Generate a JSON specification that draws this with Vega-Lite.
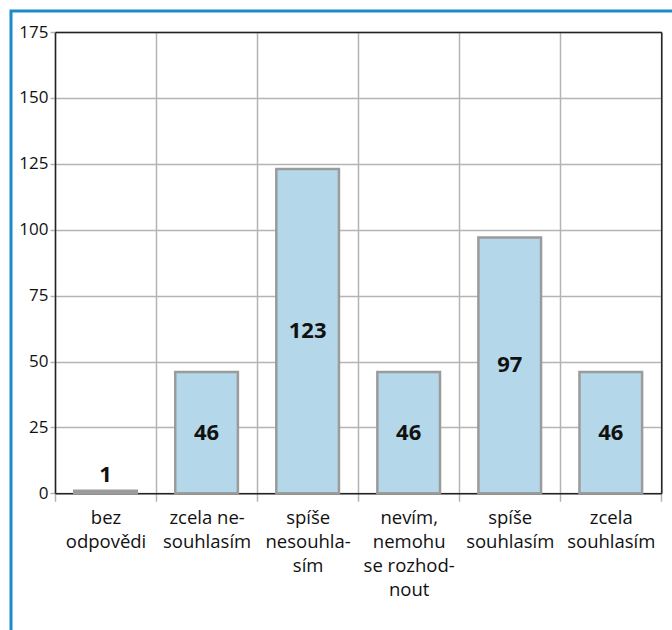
{
  "$schema": "https://vega.github.io/schema/vega-lite/v6.json",
  "width": 664,
  "height": 624,
  "autosize": {"type": "none"},
  "padding": {"left": 11, "top": 11, "right": 0, "bottom": 0},
  "background": "white",
  "config": {
    "view": {"stroke": "#1a8bc8", "strokeWidth": 3},
    "font": "Open Sans",
    "axis": {"labelFont": "Open Sans", "labelColor": "#111", "domainColor": "#222", "domainWidth": 1.5, "gridColor": "#b4b4b4", "gridWidth": 1.5, "tickColor": "#b4b4b4", "tickWidth": 1.5}
  },
  "data": {"values": [
    {"cat": "bez|odpovědi", "value": 1},
    {"cat": "zcela ne-|souhlasím", "value": 46},
    {"cat": "spíše|nesouhla-|sím", "value": 123},
    {"cat": "nevím,|nemohu|se rozhod-|nout", "value": 46},
    {"cat": "spíše|souhlasím", "value": 97},
    {"cat": "zcela|souhlasím", "value": 46}
  ]},
  "transform": [{"calculate": "datum.value < 10 ? datum.value + 6 : datum.value / 2", "as": "labelY"}],
  "layer": [
    {
      "mark": {"type": "bar", "width": {"band": 0.62}, "fill": "#b4d7e9", "stroke": "#9b9b9b", "strokeWidth": 2.5},
      "encoding": {
        "x": {"field": "cat", "type": "nominal", "sort": null,
          "scale": {"type": "band", "range": [44, 650.3], "paddingInner": 0, "paddingOuter": 0},
          "axis": {"orient": "bottom", "offset": -141.7, "title": null, "labelExpr": "split(datum.label, '|')", "labelAngle": 0, "labelOverlap": false, "tickBand": "extent", "grid": false, "tickSize": 8, "labelFontSize": 18.5, "labelPadding": 7, "labelLineHeight": 24}},
        "y": {"field": "value", "type": "quantitative",
          "scale": {"domain": [0, 175], "range": [482.3, 21], "nice": false, "zero": true},
          "axis": {"orient": "left", "offset": -44, "title": null, "values": [0, 25, 50, 75, 100, 125, 150, 175], "grid": true, "tickSize": 5, "labelFontSize": 17, "labelPadding": 2}}
      }
    },
    {
      "mark": {"type": "text", "font": "Open Sans", "fontWeight": "bold", "fontSize": 22, "baseline": "middle", "color": "#111"},
      "encoding": {
        "x": {"field": "cat", "type": "nominal", "sort": null,
          "scale": {"type": "band", "range": [44, 650.3], "paddingInner": 0, "paddingOuter": 0},
          "axis": {"orient": "top", "offset": -21, "title": null, "labels": false, "ticks": false, "grid": true, "tickBand": "extent"}},
        "y": {"field": "labelY", "type": "quantitative",
          "scale": {"domain": [0, 175], "range": [482.3, 21], "nice": false, "zero": true},
          "axis": {"orient": "right", "offset": -13.7, "title": null, "labels": false, "ticks": false, "grid": false}},
        "text": {"field": "value", "type": "quantitative"}
      }
    }
  ],
  "resolve": {"axis": {"x": "independent", "y": "independent"}}
}
